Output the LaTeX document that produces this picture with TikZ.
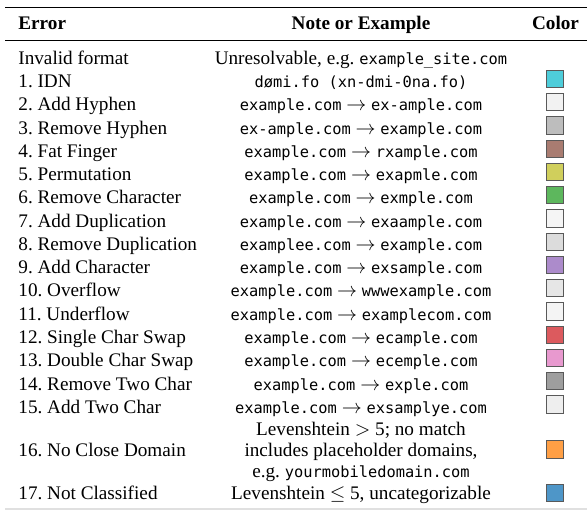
\documentclass[tikz,border=0pt]{standalone}
\usepackage{fontspec}
\setmainfont{Liberation Serif}
\setmonofont{DejaVu Sans Mono}[Scale=0.8]
\usetikzlibrary{math}
\frenchspacing

\definecolor{swIdn}{HTML}{4ECDDA}
\definecolor{swAddHyp}{HTML}{F2F2F2}
\definecolor{swRemHyp}{HTML}{BDBDBD}
\definecolor{swFat}{HTML}{A97C71}
\definecolor{swPerm}{HTML}{D0CF5C}
\definecolor{swRemChar}{HTML}{5DB75D}
\definecolor{swAddDup}{HTML}{F5F5F5}
\definecolor{swRemDup}{HTML}{DCDCDC}
\definecolor{swAddChar}{HTML}{AC8BCB}
\definecolor{swOver}{HTML}{E6E6E6}
\definecolor{swUnder}{HTML}{F4F4F4}
\definecolor{swSingle}{HTML}{DC5A5E}
\definecolor{swDouble}{HTML}{E899CF}
\definecolor{swRemTwo}{HTML}{9E9E9E}
\definecolor{swAddTwo}{HTML}{EEEEEE}
\definecolor{swNoClose}{HTML}{FF9F45}
\definecolor{swNotCl}{HTML}{4E96C8}

\begin{document}
\begin{tikzpicture}[x=0.5pt,y=-0.5pt,
    every node/.style={font=\fontsize{9.6}{11.5}\selectfont,inner sep=0pt},
    errtext/.style={anchor=base west},
    notetext/.style={anchor=base},
    swatch/.style={draw=black!65,line width=0.5pt,minimum size=8.6pt,inner sep=0pt}]
  \tikzmath{
    real \rowh, \rowtop;
    \rowh = 23.25;
    \rowtop = 64.5;
  }
  \useasboundingbox (0,0) rectangle (587,512);

  % rules
  \draw[line width=0.8pt] (5,7.5) -- (587,7.5);
  \draw[line width=0.5pt] (5,40.7) -- (587,40.7);
  \draw[line width=0.8pt,black!12] (5,509) -- (587,509);

  % header
  \node[errtext] (hErr) at (18,30) {\textbf{Error}};
  \node[notetext] (hNote) at (361,30) {\textbf{Note or Example}};
  \node[notetext] (hColor) at (555.5,30) {\textbf{Color}};

  \node[errtext] (err0) at (18,\rowtop) {Invalid format};
  \node[notetext] (note0) at (361,\rowtop) {Unresolvable, e.g. \texttt{example\_site.com}};

  \node[errtext] (err1) at (18,\rowtop+\rowh) {1. IDN};
  \node[notetext] (note1) at (361,\rowtop+\rowh) {\texttt{dømi.fo (xn-dmi-0na.fo)}};
  \node[swatch,fill=swIdn] (sw1) at (555,\rowtop+\rowh-8.7) {};

  \foreach \i/\err/\from/\to/\col in {
      2/Add Hyphen/example.com/ex-ample.com/swAddHyp,
      3/Remove Hyphen/ex-ample.com/example.com/swRemHyp,
      4/Fat Finger/example.com/rxample.com/swFat,
      5/Permutation/example.com/exapmle.com/swPerm,
      6/Remove Character/example.com/exmple.com/swRemChar,
      7/Add Duplication/example.com/exaample.com/swAddDup,
      8/Remove Duplication/examplee.com/example.com/swRemDup,
      9/Add Character/example.com/exsample.com/swAddChar,
      10/Overflow/example.com/wwwexample.com/swOver,
      11/Underflow/example.com/examplecom.com/swUnder,
      12/Single Char Swap/example.com/ecample.com/swSingle,
      13/Double Char Swap/example.com/ecemple.com/swDouble,
      14/Remove Two Char/example.com/exple.com/swRemTwo,
      15/Add Two Char/example.com/exsamplye.com/swAddTwo} {
    \node[errtext] (err\i) at (18,\rowtop+\i*\rowh) {\i. \err};
    \node[notetext] (note\i) at (361,\rowtop+\i*\rowh) {\texttt{\from} $\rightarrow$ \texttt{\to}};
    \node[swatch,fill=\col] (sw\i) at (555,\rowtop+\i*\rowh-8.7) {};
  }

  \node[errtext] (err16) at (18,456) {16. No Close Domain};
  \node[align=center,font=\fontsize{9.6}{10.5}\selectfont] (note16) at (361,452)
    {Levenshtein $>$ 5; no match\\includes placeholder domains,\\e.g. \texttt{yourmobiledomain.com}};
  \node[swatch,fill=swNoClose] (sw16) at (555,449.5) {};

  \node[errtext] (err17) at (18,499) {17. Not Classified};
  \node[notetext] (note17) at (361,499) {Levenshtein $\leq$ 5, uncategorizable};
  \node[swatch,fill=swNotCl] (sw17) at (555,493) {};
\end{tikzpicture}
\end{document}
